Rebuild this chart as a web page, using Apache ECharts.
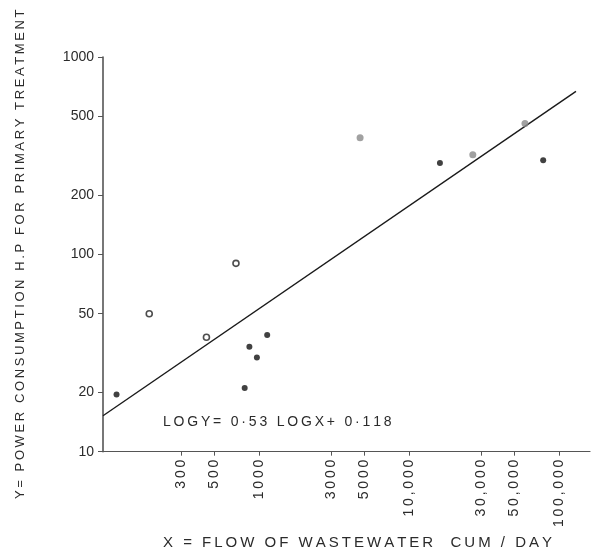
<!DOCTYPE html>
<html>
<head>
<meta charset="utf-8">
<script src="https://cdn.jsdelivr.net/npm/echarts@6/dist/echarts.min.js"></script>
<style>
  html, body { margin: 0; padding: 0; background: #fff; }
  #chart { width: 597px; height: 555px; }
</style>
</head>
<body>
<div id="chart"></div>
<script>
// Observed plants: flow (cum/day) vs power (H.P)
const flowX  = [112, 185, 445, 700, 800, 860, 965, 1130, 4700, 16000, 26500, 59000, 78000]
const powerY = [19.5, 50, 38, 90, 21, 34, 30, 39, 390, 290, 320, 460, 300]
// marker style of each point as printed: filled, open ring, gray dot
const markKind = ['filled', 'open', 'open', 'open', 'filled', 'filled', 'filled', 'filled', 'gray', 'filled', 'gray', 'gray', 'filled']

// fitted line  log y = 0.53 log x + 0.118, drawn between its two end points
const fitX = [91, 129000]
const fitY = [15.2, 670]

const xTicks = [300, 500, 1000, 3000, 5000, 10000, 30000, 50000, 100000]
const xTickLabels = ['300', '500', '1000', '3000', '5000', '10,000', '30,000', '50,000', '100,000']
const yTicks = [10, 20, 50, 100, 200, 500, 1000]
const yTickLabels = ['10', '20', '50', '100', '200', '500', '1000']

const FONT = 'Liberation Sans'
const INK = '#2b2b2b'

// the print is letter-spaced, so put a thin space between characters
const spaceOut = (s) => s.split('').join('\u2009')

const MARK_STYLE = {
  filled: { color: '#111', borderColor: '#111', borderWidth: 0 },
  open: { color: '#fff', borderColor: '#222', borderWidth: 1.6 },
  gray: { color: '#8a8a8a', borderColor: '#8a8a8a', borderWidth: 0 }
}

const pointData = flowX.map((x, i) => ({
  value: [x, powerY[i]],
  symbolSize: markKind[i] === 'gray' ? 7 : 6,
  itemStyle: MARK_STYLE[markKind[i]]
}))

const chart = echarts.init(document.getElementById('chart'))

chart.setOption({
  animation: false,
  backgroundColor: '#fff',
  grid: { left: 103, right: 7, top: 57, bottom: 102 },
  xAxis: {
    type: 'log',
    min: 91,
    max: 160000,
    name: spaceOut('X = FLOW OF WASTEWATER  CUM / DAY'),
    nameLocation: 'middle',
    nameGap: 78,
    nameTextStyle: { fontFamily: FONT, fontSize: 15, color: INK, padding: [0, 0, 0, 22] },
    axisLine: { lineStyle: { color: '#555', width: 1.2 } },
    axisTick: { show: true, customValues: xTicks, length: 4, lineStyle: { color: '#555' } },
    axisLabel: {
      customValues: xTicks,
      rotate: 90,
      margin: 8,
      fontFamily: FONT,
      fontSize: 14,
      color: INK,
      formatter: (v) => spaceOut(xTickLabels[xTicks.indexOf(Math.round(v))] || '')
    },
    splitLine: { show: false },
    minorTick: { show: false }
  },
  yAxis: {
    type: 'log',
    min: 10,
    max: 1000,
    name: spaceOut('Y= POWER CONSUMPTION H.P FOR PRIMARY TREATMENT'),
    nameLocation: 'middle',
    nameGap: 76,
    nameTextStyle: { fontFamily: FONT, fontSize: 13, color: INK },
    axisLine: { show: true, lineStyle: { color: '#555', width: 1.6 } },
    axisTick: { show: true, customValues: yTicks, length: 5, lineStyle: { color: '#555' } },
    axisLabel: {
      customValues: yTicks,
      margin: 9,
      fontFamily: FONT,
      fontSize: 14,
      color: INK,
      formatter: (v) => yTickLabels[yTicks.indexOf(Math.round(v))] || ''
    },
    splitLine: { show: false }
  },
  series: [
    {
      name: 'fit',
      type: 'line',
      data: fitX.map((x, i) => [x, fitY[i]]),
      symbol: 'none',
      lineStyle: { color: '#1a1a1a', width: 1.4 },
      z: 1
    },
    {
      name: 'plants',
      type: 'scatter',
      data: pointData,
      z: 2
    }
  ],
  graphic: [
    {
      type: 'text',
      left: 163,
      top: 415,
      style: {
        text: spaceOut('LOGY= 0·53 LOGX+ 0·118'),
        font: '14px "Liberation Sans"',
        fill: INK
      }
    }
  ]
})
</script>
</body>
</html>
